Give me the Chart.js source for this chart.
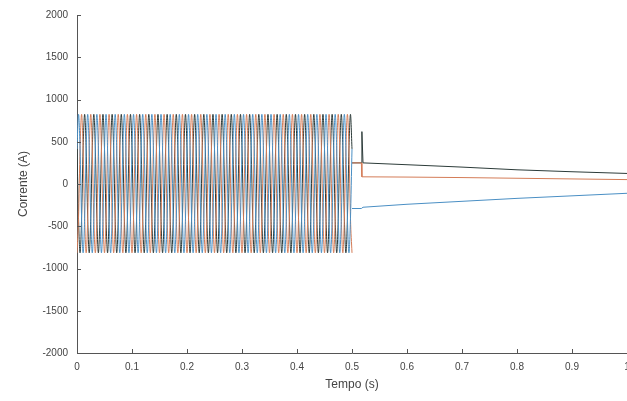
<!DOCTYPE html>
<html>
<head>
<meta charset="utf-8">
<script src="https://cdn.jsdelivr.net/npm/chart.js@4.4.1/dist/chart.umd.min.js"></script>
<style>
html,body{margin:0;padding:0;background:#fff;}
#wrap{width:627px;height:401px;}
</style>
</head>
<body>
<div id="wrap"><canvas id="c" width="627" height="401"></canvas></div>
<script>
// ---- data ----
// sinusoid samples every 1/360 s from 0 to 0.5 s (60 Hz, 6 samples per cycle)
const sinStep = 1 / 360;
const phaseA = [
415,825,415,-405,-815,-405, 415,825,415,-405,-815,-405, 415,825,415,-405,-815,-405, 415,825,415,-405,-815,-405, 415,825,415,-405,-815,-405,
415,825,415,-405,-815,-405, 415,825,415,-405,-815,-405, 415,825,415,-405,-815,-405, 415,825,415,-405,-815,-405, 415,825,415,-405,-815,-405,
415,825,415,-405,-815,-405, 415,825,415,-405,-815,-405, 415,825,415,-405,-815,-405, 415,825,415,-405,-815,-405, 415,825,415,-405,-815,-405,
415,825,415,-405,-815,-405, 415,825,415,-405,-815,-405, 415,825,415,-405,-815,-405, 415,825,415,-405,-815,-405, 415,825,415,-405,-815,-405,
415,825,415,-405,-815,-405, 415,825,415,-405,-815,-405, 415,825,415,-405,-815,-405, 415,825,415,-405,-815,-405, 415,825,415,-405,-815,-405,
415,825,415,-405,-815,-405, 415,825,415,-405,-815,-405, 415,825,415,-405,-815,-405, 415,825,415,-405,-815,-405, 415,825,415,-405,-815,-405,
415];
const phaseB = [
-815,-405,415,825,415,-405, -815,-405,415,825,415,-405, -815,-405,415,825,415,-405, -815,-405,415,825,415,-405, -815,-405,415,825,415,-405,
-815,-405,415,825,415,-405, -815,-405,415,825,415,-405, -815,-405,415,825,415,-405, -815,-405,415,825,415,-405, -815,-405,415,825,415,-405,
-815,-405,415,825,415,-405, -815,-405,415,825,415,-405, -815,-405,415,825,415,-405, -815,-405,415,825,415,-405, -815,-405,415,825,415,-405,
-815,-405,415,825,415,-405, -815,-405,415,825,415,-405, -815,-405,415,825,415,-405, -815,-405,415,825,415,-405, -815,-405,415,825,415,-405,
-815,-405,415,825,415,-405, -815,-405,415,825,415,-405, -815,-405,415,825,415,-405, -815,-405,415,825,415,-405, -815,-405,415,825,415,-405,
-815,-405,415,825,415,-405, -815,-405,415,825,415,-405, -815,-405,415,825,415,-405, -815,-405,415,825,415,-405, -815,-405,415,825,415,-405,
-815];
const phaseC = [
415,-405,-815,-405,415,825, 415,-405,-815,-405,415,825, 415,-405,-815,-405,415,825, 415,-405,-815,-405,415,825, 415,-405,-815,-405,415,825,
415,-405,-815,-405,415,825, 415,-405,-815,-405,415,825, 415,-405,-815,-405,415,825, 415,-405,-815,-405,415,825, 415,-405,-815,-405,415,825,
415,-405,-815,-405,415,825, 415,-405,-815,-405,415,825, 415,-405,-815,-405,415,825, 415,-405,-815,-405,415,825, 415,-405,-815,-405,415,825,
415,-405,-815,-405,415,825, 415,-405,-815,-405,415,825, 415,-405,-815,-405,415,825, 415,-405,-815,-405,415,825, 415,-405,-815,-405,415,825,
415,-405,-815,-405,415,825, 415,-405,-815,-405,415,825, 415,-405,-815,-405,415,825, 415,-405,-815,-405,415,825, 415,-405,-815,-405,415,825,
415,-405,-815,-405,415,825, 415,-405,-815,-405,415,825, 415,-405,-815,-405,415,825, 415,-405,-815,-405,415,825, 415,-405,-815,-405,415,825,
415];

// after the event (t >= 0.5 s)
const tailTime = [0.5, 0.517, 0.518, 0.52, 0.6, 0.7, 0.8, 0.9, 1.0];
const tailA = [-290, -290, -290, -275, -240, -205, -170, -140, -110];
const tailB = [250, 250, 85, 85, 82, 76, 68, 60, 52];
const tailC = [250, 250, 620, 250, 228, 200, 168, 145, 125];

const yTicks = [-2000, -1500, -1000, -500, 0, 500, 1000, 1500, 2000];
const xTicks = [0, 0.1, 0.2, 0.3, 0.4, 0.5, 0.6, 0.7, 0.8, 0.9, 1];

const colA = '#4a8fc4';
const colB = '#d47c57';
const colC = '#2c3b39';

function sinPts(arr){ return arr.map((v,i)=>({x:i*sinStep, y:v})); }
function tailPts(arr){ return arr.map((v,i)=>({x:tailTime[i], y:v})); }

const innerTicks = {
  id:'innerTicks',
  afterDraw(chart){
    const ctx = chart.ctx, a = chart.chartArea;
    const xs = chart.scales.x, ys = chart.scales.y;
    ctx.save();
    ctx.strokeStyle = '#555';
    ctx.lineWidth = 1;
    ctx.beginPath();
    yTicks.forEach(v=>{ const p = Math.round(ys.getPixelForValue(v))+0.5; ctx.moveTo(a.left, p); ctx.lineTo(a.left+4, p); });
    xTicks.forEach(v=>{ const p = Math.round(xs.getPixelForValue(v))+0.5; ctx.moveTo(p, a.bottom); ctx.lineTo(p, a.bottom-4); });
    ctx.stroke();
    ctx.restore();
  }
};

const common = {pointRadius:0, borderWidth:1, fill:false};
const font = {family:'"Liberation Sans", Arial, sans-serif', size:10};

new Chart(document.getElementById('c'), {
  type:'line',
  data:{
    datasets:[
      Object.assign({label:'Ia', data:sinPts(phaseA), borderColor:colA, cubicInterpolationMode:'monotone'}, common),
      Object.assign({label:'Ib', data:sinPts(phaseB), borderColor:colB, cubicInterpolationMode:'monotone'}, common),
      Object.assign({label:'Ic', data:sinPts(phaseC), borderColor:colC, cubicInterpolationMode:'monotone'}, common),
      Object.assign({label:'Ia2', data:tailPts(tailA), borderColor:colA, tension:0}, common),
      Object.assign({label:'Ib2', data:tailPts(tailB), borderColor:colB, tension:0}, common),
      Object.assign({label:'Ic2', data:tailPts(tailC), borderColor:colC, tension:0}, common)
    ]
  },
  options:{
    responsive:false,
    animation:false,
    devicePixelRatio:1,
    layout:{padding:{top:12, left:0, right:0, bottom:0}},
    plugins:{legend:{display:false}, tooltip:{enabled:false}},
    scales:{
      x:{
        type:'linear', min:0, max:1,
        afterBuildTicks(s){ s.ticks = xTicks.map(v=>({value:v})); },
        afterFit(s){ s.height = 48; s.paddingRight = 0; s.paddingLeft = 0; },
        ticks:{color:'#444', font:font, padding:8, maxRotation:0, autoSkip:false,
               callback:v=>String(+Number(v).toFixed(1))},
        grid:{drawOnChartArea:false, drawTicks:false},
        border:{display:true, color:'#555', width:1},
        title:{display:true, text:'Tempo (s)', color:'#444', font:{family:font.family, size:12}, padding:{top:0, bottom:9}}
      },
      y:{
        type:'linear', min:-2000, max:2000,
        afterBuildTicks(s){ s.ticks = yTicks.map(v=>({value:v})); },
        afterFit(s){ s.width = 77; },
        ticks:{color:'#444', font:font, padding:9, autoSkip:false, callback:v=>String(v)},
        grid:{drawOnChartArea:false, drawTicks:false},
        border:{display:true, color:'#555', width:1},
        title:{display:true, text:'Corrente (A)', color:'#444', font:{family:font.family, size:12}, padding:{top:16, bottom:0}}
      }
    }
  },
  plugins:[innerTicks]
});
</script>
</body>
</html>
